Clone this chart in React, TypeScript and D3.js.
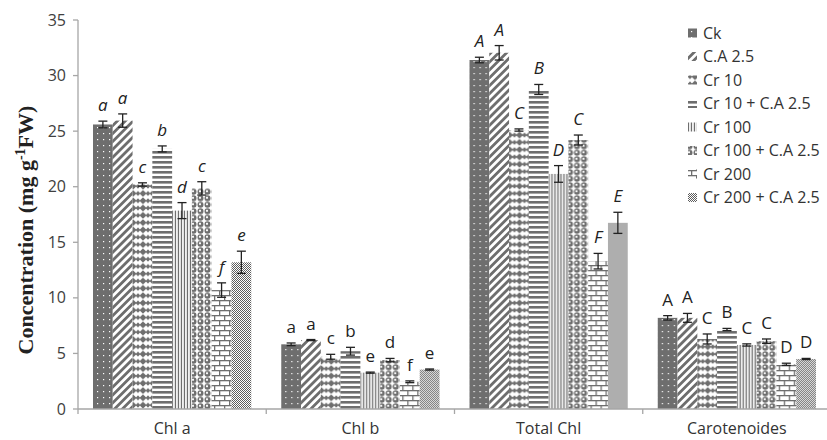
import React from "react";
import * as d3 from "d3";

const categories = ["Chl a", "Chl b", "Total Chl", "Carotenoides"];
const treatments = ["Ck", "C.A 2.5", "Cr 10", "Cr 10 + C.A 2.5", "Cr 100", "Cr 100 + C.A 2.5", "Cr 200", "Cr 200 + C.A 2.5"];

const chlA = [25.6, 25.95, 20.2, 23.4, 17.85, 19.85, 10.7, 13.2];
const chlAErr = [0.3, 0.6, 0.15, 0.27, 0.72, 0.6, 0.65, 1.0];
const chlALetters = ["a", "a", "c", "b", "d", "c", "f", "e"];

const chlB = [5.82, 6.2, 4.7, 5.2, 3.27, 4.4, 2.45, 3.55];
const chlBErr = [0.12, 0.05, 0.22, 0.35, 0.05, 0.15, 0.08, 0.05];
const chlBLetters = ["a", "a", "c", "b", "e", "d", "f", "e"];

const totalChl = [31.4, 32.05, 25.1, 28.75, 21.15, 24.2, 13.3, 16.75];
const totalErr = [0.25, 0.65, 0.1, 0.45, 0.75, 0.45, 0.7, 0.95];
const totalLetters = ["A", "A", "C", "B", "D", "C", "F", "E"];

const carot = [8.2, 8.2, 6.3, 7.15, 5.76, 6.1, 4.02, 4.5];
const carotErr = [0.2, 0.4, 0.45, 0.1, 0.1, 0.2, 0.1, 0.05];
const carotLetters = ["A", "A", "C", "B", "C", "C", "D", "D"];

const yTicks = [0, 5, 10, 15, 20, 25, 30, 35];

const groups = [
  { values: chlA, errs: chlAErr, letters: chlALetters, italic: true },
  { values: chlB, errs: chlBErr, letters: chlBLetters, italic: false },
  { values: totalChl, errs: totalErr, letters: totalLetters, italic: true },
  { values: carot, errs: carotErr, letters: carotLetters, italic: false },
];

const W = 827;
const H = 440;
const G = "#6e6e6e";
const AX = "#a6a6a6";
const FONT = "'Open Sans', 'Noto Sans', sans-serif";

function Patterns() {
  return (
    <defs>
      <pattern id="p0" patternUnits="userSpaceOnUse" width="6" height="6">
        <rect width="6" height="6" fill={G} />
        <rect x="1" y="1" width="1.2" height="1.2" fill="#fff" />
      </pattern>
      <pattern id="p1" patternUnits="userSpaceOnUse" width="5.6" height="10" patternTransform="rotate(45)">
        <rect width="5.6" height="10" fill="#fff" />
        <rect width="2.8" height="10" fill={G} />
      </pattern>
      <pattern id="p2" patternUnits="userSpaceOnUse" width="10" height="7.3">
        <rect width="10" height="7.3" fill="#fff" />
        <path d="M5,0.2 L8.6,3.65 L5,7.1 L1.4,3.65 Z" fill={G} />
        <path d="M0,1.2 L2.4,3.65 L0,6.1 Z" fill={G} />
        <path d="M10,1.2 L7.6,3.65 L10,6.1 Z" fill={G} />
      </pattern>
      <pattern id="p3" patternUnits="userSpaceOnUse" width="10" height="5">
        <rect width="10" height="5" fill="#fff" />
        <rect y="1" width="10" height="2.6" fill={G} />
      </pattern>
      <pattern id="p4" patternUnits="userSpaceOnUse" width="3" height="10">
        <rect width="3" height="10" fill="#fff" />
        <rect x="0.8" width="1.3" height="10" fill={G} />
      </pattern>
      <pattern id="p5" patternUnits="userSpaceOnUse" width="7" height="6.5">
        <rect width="7" height="6.5" fill="#fff" />
        <circle cx="3.5" cy="3.25" r="3" fill={G} />
        <circle cx="3" cy="2.7" r="1.1" fill="#fff" />
      </pattern>
      <pattern id="p6" patternUnits="userSpaceOnUse" width="10" height="10">
        <rect width="10" height="10" fill="#fff" />
        <rect y="0" width="10" height="1.3" fill={G} />
        <rect y="5" width="10" height="1.3" fill={G} />
        <rect x="1" y="0" width="1.3" height="5" fill={G} />
        <rect x="6" y="5" width="1.3" height="5" fill={G} />
      </pattern>
      <pattern id="p7" patternUnits="userSpaceOnUse" width="2" height="2">
        <rect width="2" height="2" fill="#fff" />
        <rect width="1" height="1" fill="#5e5e5e" />
        <rect x="1" y="1" width="1" height="1" fill="#5e5e5e" />
      </pattern>
    </defs>
  );
}

export default function App() {
  const x0 = d3.scaleBand<string>().domain(categories).range([78, 831]).paddingInner(0).paddingOuter(0);
  const bw = x0.bandwidth();
  const x1 = d3.scaleBand<string>().domain(treatments).range([15, bw - 15]).padding(0);
  const y = d3.scaleLinear().domain([0, 35]).range([409, 20]);
  const capW = 9;

  return (
    <svg width={W} height={H} style={{ position: "absolute", left: 0, top: 0, background: "#fff" }}>
      <Patterns />
      <rect width={W} height={H} fill="#fff" />
      {categories.map((c, ci) => {
        const g = groups[ci];
        return (
          <g key={c} transform={`translate(${x0(c)},0)`}>
            {treatments.map((t, ti) => {
              const v = g.values[ti];
              const bx = x1(t)!;
              return (
                <rect key={t} x={bx} y={y(v)} width={x1.bandwidth()} height={y(0) - y(v)} fill={`url(#p${ti})`} />
              );
            })}
            {treatments.map((t, ti) => {
              const v = g.values[ti];
              const e = g.errs[ti];
              const cx = x1(t)! + x1.bandwidth() / 2;
              return (
                <g key={t + "e"} stroke="#222" strokeWidth={1.3}>
                  <line x1={cx} x2={cx} y1={y(v + e)} y2={y(v - e)} />
                  <line x1={cx - capW / 2} x2={cx + capW / 2} y1={y(v + e)} y2={y(v + e)} />
                  <line x1={cx - capW / 2} x2={cx + capW / 2} y1={y(v - e)} y2={y(v - e)} />
                </g>
              );
            })}
            {treatments.map((t, ti) => {
              const v = g.values[ti];
              const e = g.errs[ti];
              const cx = x1(t)! + x1.bandwidth() / 2;
              return (
                <text key={t + "l"} x={cx} y={y(v + e) - 10} textAnchor="middle" fontFamily={FONT} fontSize={17}
                  fontStyle={g.italic ? "italic" : "normal"} fill="#222">
                  {g.letters[ti]}
                </text>
              );
            })}
          </g>
        );
      })}
      <line x1={78} x2={78} y1={y(35)} y2={y(0)} stroke={AX} strokeWidth={1.3} />
      {yTicks.map((t) => (
        <g key={t}>
          <line x1={73} x2={78} y1={y(t)} y2={y(t)} stroke={AX} strokeWidth={1.3} />
          <text x={66} y={y(t)} dy="0.35em" textAnchor="end" fontFamily={FONT} fontSize={16} fill="#404040">{t}</text>
        </g>
      ))}
      <line x1={78} x2={831} y1={y(0)} y2={y(0)} stroke={AX} strokeWidth={1.3} />
      {categories.map((c) => (
        <line key={c + "t"} x1={x0(c)!} x2={x0(c)!} y1={y(0)} y2={y(0) + 5} stroke={AX} strokeWidth={1.3} />
      ))}
      {categories.map((c) => (
        <text key={c} x={x0(c)! + bw / 2} y={434} textAnchor="middle" fontFamily={FONT} fontSize={16} fill="#333">{c}</text>
      ))}
      <text transform="translate(33,230) rotate(-90)" textAnchor="middle" fontFamily="'Liberation Serif', 'Times New Roman', serif"
        fontWeight="bold" fontSize={22} fill="#222">
        Concentration (mg g<tspan dy="-8" fontSize={14}>-1</tspan><tspan dy="8">FW)</tspan>
      </text>
      {treatments.map((t, i) => {
        const ly = 33 + i * 23.5;
        return (
          <g key={t + "leg"}>
            <rect x={688} y={ly - 4.5} width={9} height={9} fill={`url(#p${i})`} />
            <text x={703} y={ly} dy="0.35em" fontFamily={FONT} fontSize={16} fill="#333">{t}</text>
          </g>
        );
      })}
    </svg>
  );
}
